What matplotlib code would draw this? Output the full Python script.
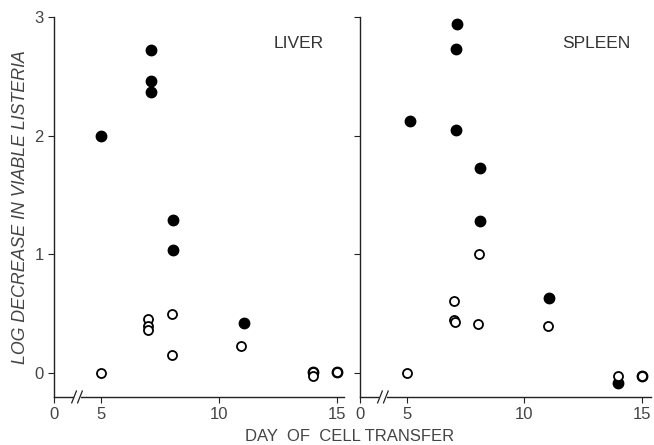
import matplotlib.pyplot as plt
import numpy as np

plt.rcParams['font.family'] = ['Liberation Sans', 'DejaVu Sans']

# LIVER panel
liver_fill_x = [5, 7.1, 7.1, 7.1, 8.05, 8.05, 11.05, 14, 15]
liver_fill_y = [2.0, 2.72, 2.46, 2.37, 1.29, 1.04, 0.42, 0.01, 0.01]
liver_open_x = [5, 7.0, 7.0, 7.0, 8.0, 8.0, 10.95, 14, 14, 15]
liver_open_y = [0.0, 0.46, 0.40, 0.36, 0.50, 0.15, 0.23, 0.01, -0.02, 0.01]

# SPLEEN panel
spleen_fill_x = [5.13, 7.14, 7.1, 7.08, 8.1, 8.1, 11.04, 14.0, 15.0]
spleen_fill_y = [2.12, 2.94, 2.73, 2.05, 1.73, 1.28, 0.63, -0.08, -0.02]
spleen_open_x = [5.0, 7.0, 7.0, 7.05, 8.03, 8.05, 11.0, 14.0, 15.0]
spleen_open_y = [0.0, 0.61, 0.45, 0.43, 0.41, 1.0, 0.40, -0.02, -0.02]

xticks = [3, 5, 10, 15]
xtick_labels = ['0', '5', '10', '15']
yticks = [0, 1, 2, 3]

col = '#222222'
fig = plt.figure(figsize=(6.54, 4.45), dpi=100)
ax1 = fig.add_axes([0.0826, 0.108, 0.4434, 0.854])
ax2 = fig.add_axes([0.5505, 0.108, 0.445, 0.854])

panels = [(ax1, liver_fill_x, liver_fill_y, liver_open_x, liver_open_y, 'LIVER', 15.3),
          (ax2, spleen_fill_x, spleen_fill_y, spleen_open_x, spleen_open_y, 'SPLEEN', 15.4)]

for ax, fx, fy, ox, oy, name, xmax in panels:
    ax.plot(fx, fy, 'o', color='black', markersize=7.5, zorder=3)
    ax.plot(ox, oy, 'o', markerfacecolor='white', markeredgecolor='black',
            markersize=6.5, markeredgewidth=1.3, zorder=4)
    ax.set_xlim(3, xmax)
    ax.set_ylim(-0.2, 3.0)
    ax.set_xticks(xticks)
    ax.set_xticklabels(xtick_labels)
    ax.set_yticks(yticks)
    for s in ['top', 'right']:
        ax.spines[s].set_visible(False)
    for s in ['left', 'bottom']:
        ax.spines[s].set_color(col)
        ax.spines[s].set_linewidth(1.0)
    ax.tick_params(direction='out', length=4, width=0.8, colors=col,
                   labelsize=12, labelcolor='#444444')
    ax.text(0.93, 0.93, name, transform=ax.transAxes, ha='right', va='center',
            fontsize=12.5, color='#333333')
    # axis break marks
    for bx in [3.85, 4.1]:
        ax.plot([bx - 0.1, bx + 0.1], [-0.25, -0.15], color=col, lw=0.9,
                clip_on=False, zorder=5)
    ax.plot([3.87, 4.08], [-0.2, -0.2], color='white', lw=2, clip_on=False, zorder=4)

ax2.set_yticklabels([])
ax1.set_ylabel('LOG DECREASE IN VIABLE LISTERIA', fontsize=12.8, style='italic',
               color='#444444', labelpad=4)
fig.text(0.534, 0.02, 'DAY  OF  CELL TRANSFER', ha='center', va='center',
         fontsize=12, color='#444444')

plt.savefig('out.png', dpi=100)
